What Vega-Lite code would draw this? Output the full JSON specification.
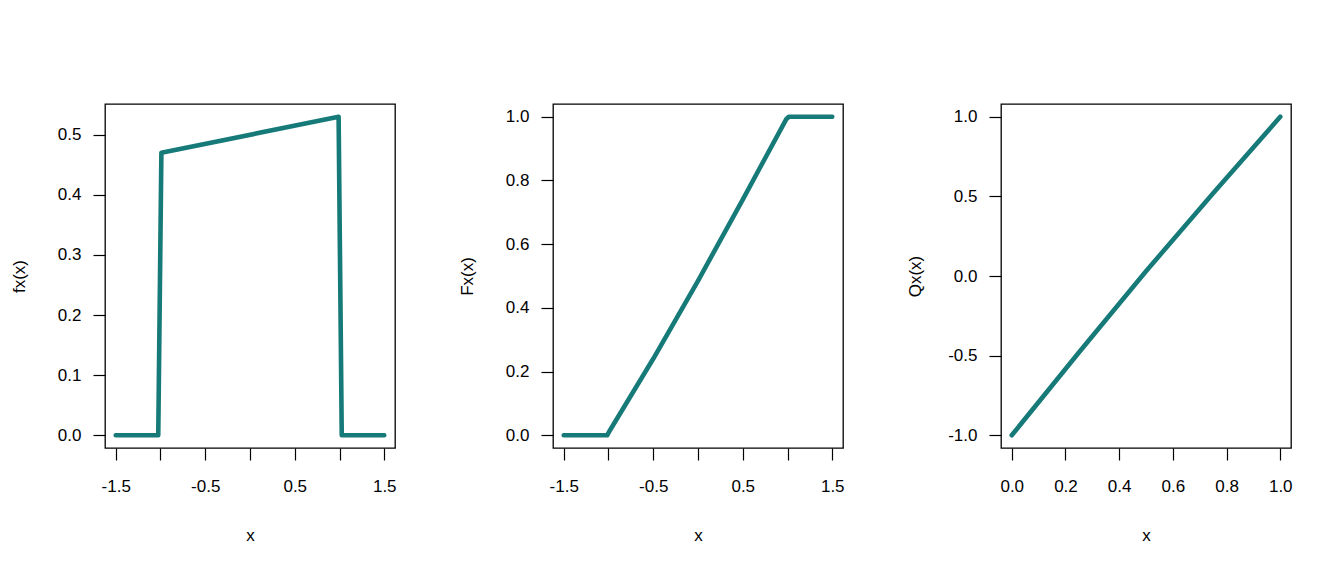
{
  "$schema": "https://vega.github.io/schema/vega-lite/v6.json",
  "background": "white",
  "padding": {"left": 9, "top": 103, "right": 10, "bottom": 10},
  "bounds": "flush",
  "spacing": 158,
  "datasets": {
    "pdf": [
      {"x": -1.5, "y": 0},
      {"x": -1.025, "y": 0},
      {"x": -0.99, "y": 0.47},
      {"x": 0.99, "y": 0.53},
      {"x": 1.025, "y": 0},
      {"x": 1.5, "y": 0}
    ],
    "cdf": [
      {"x": -1.5, "y": 0},
      {"x": -1.015, "y": 0},
      {"x": -0.985, "y": 0.015},
      {"x": -0.5, "y": 0.24},
      {"x": 0, "y": 0.485},
      {"x": 0.5, "y": 0.74},
      {"x": 0.985, "y": 0.992},
      {"x": 1.015, "y": 1},
      {"x": 1.5, "y": 1}
    ],
    "qf": [
      {"p": 0, "q": -1},
      {"p": 0.25, "q": -0.48},
      {"p": 0.5, "q": 0.03},
      {"p": 0.75, "q": 0.52},
      {"p": 1, "q": 1}
    ]
  },
  "hconcat": [
    {
      "width": 290,
      "height": 344,
      "data": {"name": "pdf"},
      "mark": {"type": "line", "color": "#157A78", "strokeWidth": 4.6, "strokeCap": "round", "strokeJoin": "round"},
      "encoding": {
        "x": {
          "field": "x", "type": "quantitative",
          "scale": {"domain": [-1.62, 1.62], "nice": false, "zero": false},
          "axis": {"title": "x", "values": [-1.5, -1, -0.5, 0, 0.5, 1, 1.5], "labelExpr": "datum.value % 1 == 0 ? '' : format(datum.value, '.1f')"}
        },
        "y": {
          "field": "y", "type": "quantitative",
          "scale": {"domain": [-0.0212, 0.5512], "nice": false, "zero": false},
          "axis": {"title": "fx(x)", "values": [0, 0.1, 0.2, 0.3, 0.4, 0.5], "format": ".1f"}
        }
      }
    },
    {
      "width": 290,
      "height": 344,
      "data": {"name": "cdf"},
      "mark": {"type": "line", "color": "#157A78", "strokeWidth": 4.6, "strokeCap": "round", "strokeJoin": "round"},
      "encoding": {
        "x": {
          "field": "x", "type": "quantitative",
          "scale": {"domain": [-1.62, 1.62], "nice": false, "zero": false},
          "axis": {"title": "x", "values": [-1.5, -1, -0.5, 0, 0.5, 1, 1.5], "labelExpr": "datum.value % 1 == 0 ? '' : format(datum.value, '.1f')"}
        },
        "y": {
          "field": "y", "type": "quantitative",
          "scale": {"domain": [-0.04, 1.04], "nice": false, "zero": false},
          "axis": {"title": "Fx(x)", "values": [0, 0.2, 0.4, 0.6, 0.8, 1], "format": ".1f"}
        }
      }
    },
    {
      "width": 290,
      "height": 344,
      "data": {"name": "qf"},
      "mark": {"type": "line", "color": "#157A78", "strokeWidth": 4.6, "strokeCap": "round", "strokeJoin": "round"},
      "encoding": {
        "x": {
          "field": "p", "type": "quantitative",
          "scale": {"domain": [-0.04, 1.04], "nice": false, "zero": false},
          "axis": {"title": "x", "values": [0, 0.2, 0.4, 0.6, 0.8, 1], "format": ".1f"}
        },
        "y": {
          "field": "q", "type": "quantitative",
          "scale": {"domain": [-1.08, 1.08], "nice": false, "zero": false},
          "axis": {"title": "Qx(x)", "values": [-1, -0.5, 0, 0.5, 1], "format": ".1f"}
        }
      }
    }
  ],
  "config": {
    "locale": {"number": {"decimal": ".", "thousands": ",", "grouping": [3], "currency": ["$", ""], "minus": "-"}},
    "view": {"stroke": "black", "strokeWidth": 1.3, "fill": "white"},
    "axis": {
      "domain": false,
      "grid": false,
      "ticks": true,
      "tickColor": "black",
      "tickSize": 12,
      "tickWidth": 1.2,
      "labelFont": "Liberation Sans",
      "labelFontSize": 17,
      "labelColor": "black",
      "titleFont": "Liberation Sans",
      "titleFontSize": 17,
      "titleFontWeight": "normal",
      "titleColor": "black",
      "labelOverlap": false,
      "labelFlush": false
    },
    "axisX": {
      "labelPadding": 18,
      "titleX": 145,
      "titleY": 92,
      "titleBaseline": "alphabetic",
      "titleAlign": "center"
    },
    "axisY": {
      "labelPadding": 12,
      "titleX": -86,
      "titleY": 172,
      "titleAngle": -90,
      "titleBaseline": "middle",
      "titleAlign": "center"
    }
  }
}
